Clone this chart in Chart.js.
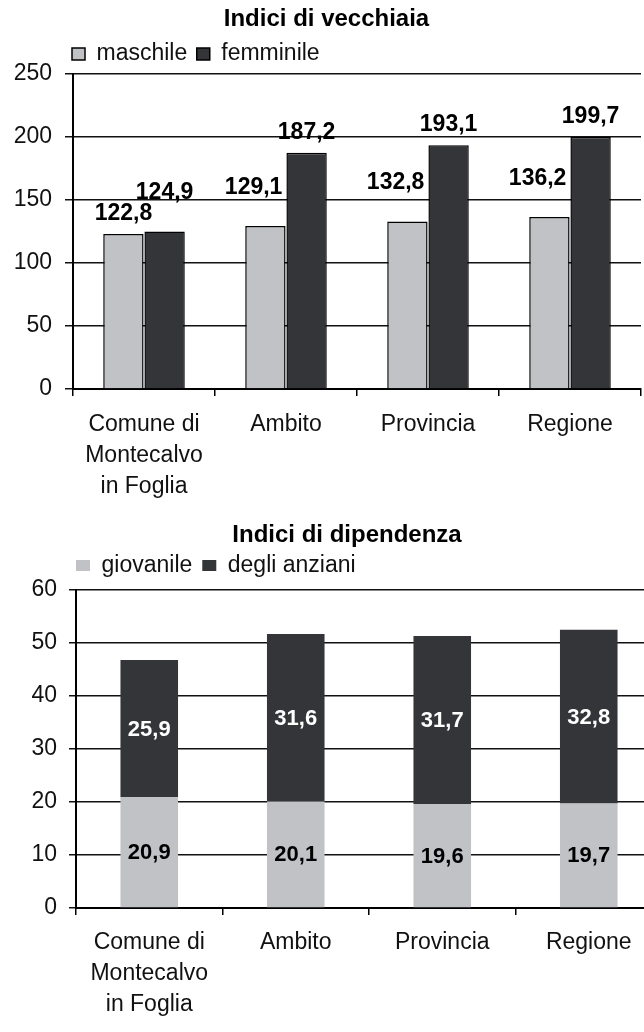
<!DOCTYPE html>
<html>
<head>
<meta charset="utf-8">
<script src="https://cdn.jsdelivr.net/npm/chart.js@4/dist/chart.umd.min.js"></script>
<style>
    html, body { margin: 0; padding: 0; background: #fff; overflow: hidden; }
    #top { width: 644px; height: 515px; }
    #bottom { width: 664px; height: 517px; }
</style>
</head>
<body>
<div id="top"><canvas id="chartVecchiaia"></canvas></div>
<div id="bottom"><canvas id="chartDipendenza"></canvas></div>
<script>
// Data.
const categories = [['Comune di', 'Montecalvo', 'in Foglia'], 'Ambito', 'Provincia', 'Regione'];
const maschile = [122.8, 129.1, 132.8, 136.2];
const femminile = [124.9, 187.2, 193.1, 199.7];
const giovanile = [20.9, 20.1, 19.6, 19.7];
const anziani = [25.9, 31.6, 31.7, 32.8];
const vecchiaiaMax = 250;
const vecchiaiaStep = 50;
const dipendenzaMax = 60;
const dipendenzaStep = 10;

const LIGHT = '#c0c2c6';
const DARK = '#343538';
const INK = '#111';

Chart.defaults.font.family = '"Liberation Sans", Arial, sans-serif';
Chart.defaults.font.size = 23;
Chart.defaults.color = INK;

const fmt = v => v.toFixed(1).replace('.', ',');

// Moves the title / legend boxes after layout (Excel puts them off-centre).
const shiftBoxes = {
    id: 'shiftBoxes',
    afterLayout(chart, args, opts) {
        const move = (box, d) => {
            if (!box || !d) return;
            box.left += d.x || 0;
            box.right += d.x || 0;
            box.top += d.y || 0;
            box.bottom += d.y || 0;
        };
        move(chart.legend, opts.legend);
        move(chart.titleBlock, opts.title);
    }
};

// Value labels above grouped bars, nudged away from taller neighbours and each other.
const outsideLabels = {
    id: 'outsideLabels',
    afterDatasetsDraw(chart, args, opts) {
        const ctx = chart.ctx;
        ctx.save();
        ctx.font = opts.font;
        ctx.fillStyle = opts.color;
        ctx.textAlign = 'left';
        ctx.textBaseline = 'alphabetic';
        const metas = chart.data.datasets.map((d, i) => chart.getDatasetMeta(i));
        const placed = [];
        chart.data.labels.forEach((lbl, c) => {
            metas.forEach((meta, di) => {
                const bar = meta.data[c];
                const text = fmt(chart.data.datasets[di].data[c]);
                const w = ctx.measureText(text).width;
                let x = bar.x - w / 2;
                let base = bar.y - opts.gap;
                metas.forEach((other, oi) => {
                    if (oi === di) return;
                    const ob = other.data[c];
                    const half = ob.width / 2;
                    if (ob.y < base && x + w > ob.x - half && x < ob.x + half) {
                        x = ob.x > bar.x ? ob.x - half - opts.pad - w : ob.x + half + opts.pad;
                        base -= opts.lift;
                    }
                });
                placed.forEach(p => {
                    if (x < p.x + p.w && x + w > p.x && base > p.top && base - opts.h < p.base) {
                        base = p.top - opts.pad;
                    }
                });
                ctx.fillText(text, x, base);
                placed.push({ x, w, base, top: base - opts.h });
            });
        });
        ctx.restore();
    }
};

// Value labels centred inside stacked segments.
const insideLabels = {
    id: 'insideLabels',
    afterDatasetsDraw(chart, args, opts) {
        const ctx = chart.ctx;
        ctx.save();
        ctx.font = opts.font;
        ctx.textAlign = 'center';
        ctx.textBaseline = 'middle';
        chart.data.datasets.forEach((ds, di) => {
            ctx.fillStyle = opts.colors[di];
            chart.getDatasetMeta(di).data.forEach((bar, i) => {
                ctx.fillText(fmt(ds.data[i]), bar.x, (bar.y + bar.base) / 2 + 1);
            });
        });
        ctx.restore();
    }
};

function scales(max, step, axisWidth, tickLen, tickPad, xPad) {
    return {
        x: {
            offset: true,
            grid: { drawOnChartArea: false, drawTicks: true, tickLength: 7, color: '#000', lineWidth: 1.5 },
            border: { color: '#000', width: 2 },
            ticks: {
                color: INK,
                padding: xPad,
                maxRotation: 0,
                autoSkip: false,
                font: { size: 23, lineHeight: 31 / 23 }
            }
        },
        y: {
            min: 0,
            max: max,
            afterFit: (scale) => { scale.width = axisWidth; },
            grid: { color: '#111', lineWidth: 1.5, tickLength: tickLen, drawTicks: true },
            border: { color: '#000', width: 2 },
            ticks: { stepSize: step, padding: tickPad, color: INK, font: { size: 23 } }
        }
    };
}

new Chart(document.getElementById('chartVecchiaia'), {
    type: 'bar',
    data: {
        labels: categories,
        datasets: [
            { label: 'maschile', data: maschile, backgroundColor: LIGHT, borderColor: '#000', borderWidth: 1.5,
              categoryPercentage: 0.58, barPercentage: 0.98 },
            { label: 'femminile', data: femminile, backgroundColor: DARK, borderColor: '#000', borderWidth: 1.5,
              categoryPercentage: 0.58, barPercentage: 0.98 }
        ]
    },
    options: {
        responsive: true,
        maintainAspectRatio: false,
        animation: false,
        layout: { padding: { left: 0, right: 3, top: 0, bottom: 0 } },
        plugins: {
            title: {
                display: true,
                text: 'Indici di vecchiaia',
                color: '#000',
                font: { size: 24, weight: 'bold', lineHeight: 1 },
                padding: { top: 7, bottom: 0 }
            },
            legend: {
                display: true,
                align: 'start',
                labels: { boxWidth: 13, boxHeight: 12, padding: 9.5, color: INK, font: { size: 23 } }
            },
            tooltip: { enabled: false },
            shiftBoxes: { legend: { x: 62.5, y: 2 }, title: { x: 6 } },
            outsideLabels: { font: 'bold 23px "Liberation Sans", Arial, sans-serif', color: '#000',
                             gap: 14, pad: 4, lift: 18, h: 17 }
        },
        scales: scales(vecchiaiaMax, vecchiaiaStep, 73, 8, 13, 13)
    },
    plugins: [shiftBoxes, outsideLabels]
});

new Chart(document.getElementById('chartDipendenza'), {
    type: 'bar',
    data: {
        labels: categories,
        datasets: [
            { label: 'giovanile', data: giovanile, backgroundColor: LIGHT, borderWidth: 0,
              categoryPercentage: 0.393, barPercentage: 1 },
            { label: 'degli anziani', data: anziani, backgroundColor: DARK, borderWidth: 0,
              categoryPercentage: 0.393, barPercentage: 1 }
        ]
    },
    options: {
        responsive: true,
        maintainAspectRatio: false,
        animation: false,
        layout: { padding: { left: 0, right: 2, top: 0, bottom: 0 } },
        plugins: {
            title: {
                display: true,
                text: 'Indici di dipendenza',
                color: '#000',
                font: { size: 24, weight: 'bold', lineHeight: 1 },
                padding: { top: 8, bottom: 0 }
            },
            legend: {
                display: true,
                align: 'start',
                labels: { boxWidth: 14, boxHeight: 11, padding: 10, color: INK, font: { size: 23 } }
            },
            tooltip: { enabled: false },
            shiftBoxes: { legend: { x: 66, y: -3 }, title: { x: 16 } },
            insideLabels: { font: 'bold 22px "Liberation Sans", Arial, sans-serif', colors: ['#000', '#fff'] }
        },
        scales: (() => {
            const s = scales(dipendenzaMax, dipendenzaStep, 76, 7, 12, 12);
            s.x.stacked = true;
            s.y.stacked = true;
            return s;
        })()
    },
    plugins: [shiftBoxes, insideLabels]
});
</script>
</body>
</html>
